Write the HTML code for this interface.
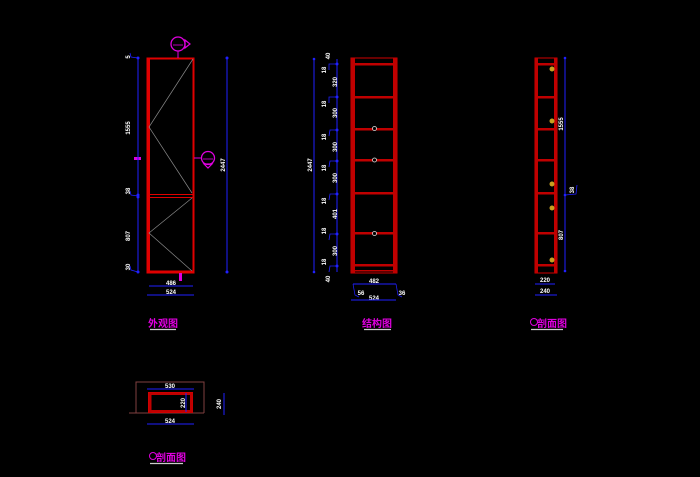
<!DOCTYPE html>
<html><head><meta charset="utf-8"><style>
html,body{margin:0;padding:0;background:#000;}
svg{display:block}
text{font-family:"Liberation Sans","Noto Sans CJK SC",sans-serif;}
</style></head><body>
<svg width="700" height="477" viewBox="0 0 700 477" xmlns="http://www.w3.org/2000/svg">
<rect width="700" height="477" fill="#000"/>
<!-- LEFT ELEVATION -->
<g>
<rect x="147.5" y="58.5" width="46" height="214" fill="none" stroke="#e00000" stroke-width="2"/>
<rect x="147" y="58" width="3" height="215" fill="#e00000"/>
<line x1="148" y1="194.5" x2="193" y2="194.5" stroke="#e00000" stroke-width="1"/>
<line x1="148" y1="197.5" x2="193" y2="197.5" stroke="#e00000" stroke-width="1"/>
<line x1="148" y1="271" x2="193" y2="271" stroke="#e00000" stroke-width="1"/>
<polyline points="193,59 149,127 192,193" fill="none" stroke="#888" stroke-width="0.7"/>
<polyline points="192,198 149,233 192,271" fill="none" stroke="#888" stroke-width="0.7"/>
<line x1="178" y1="51" x2="178" y2="58" stroke="#e000e0" stroke-width="1"/>
<circle cx="178" cy="44" r="7" fill="none" stroke="#e000e0" stroke-width="1.3"/>
<polygon points="185,40 190,44 185,48" fill="none" stroke="#e000e0" stroke-width="1.2"/>
<line x1="173" y1="45" x2="183" y2="45" stroke="#e000e0" stroke-width="0.8"/>
<line x1="194" y1="158" x2="202" y2="158" stroke="#e000e0" stroke-width="1"/>
<circle cx="208" cy="158" r="6.5" fill="none" stroke="#e000e0" stroke-width="1.3"/>
<polygon points="204,164 208,168 212,164" fill="none" stroke="#e000e0" stroke-width="1.2"/>
<line x1="203" y1="159" x2="213" y2="159" stroke="#e000e0" stroke-width="0.8"/>
<rect x="134" y="157" width="7" height="3" fill="#e000e0"/>
<rect x="179" y="273" width="3" height="8" fill="#e000e0"/>
<line x1="138" y1="58" x2="138" y2="272" stroke="#2020ff" stroke-width="1"/>
<g fill="#2020ff"><circle cx="138" cy="58" r="1.5"/><circle cx="138" cy="195" r="1.5"/><circle cx="138" cy="197" r="1.5"/><circle cx="138" cy="272" r="1.5"/></g>
<polyline points="130,53 131,57 138,58" fill="none" stroke="#2020ff" stroke-width="0.8"/>
<polyline points="130,266 131,270 138,272" fill="none" stroke="#2020ff" stroke-width="0.8"/>
<polyline points="130,191 131,195 138,196" fill="none" stroke="#2020ff" stroke-width="0.8"/>
<line x1="227" y1="58" x2="227" y2="272" stroke="#2020ff" stroke-width="1"/>
<circle cx="227" cy="58" r="1.5" fill="#2020ff"/><circle cx="227" cy="272" r="1.5" fill="#2020ff"/>
<line x1="149" y1="286" x2="193" y2="286" stroke="#2020ff" stroke-width="1"/>
<line x1="147" y1="295" x2="194" y2="295" stroke="#2020ff" stroke-width="1"/>
<g fill="#fff" font-size="6" font-weight="bold" text-anchor="middle">
<text transform="translate(130,57) rotate(-90)">5</text>
<text transform="translate(130,128) rotate(-90)">1555</text>
<text transform="translate(130,191) rotate(-90)">38</text>
<text transform="translate(130,236) rotate(-90)">807</text>
<text transform="translate(130,267) rotate(-90)">30</text>
<text transform="translate(225,165) rotate(-90)">2447</text>
<text x="171" y="285">486</text>
<text x="171" y="294">524</text>
</g>
<text x="163" y="327" fill="#e000e0" font-size="10" font-weight="bold" text-anchor="middle">外观图</text>
<line x1="150" y1="329.5" x2="176" y2="329.5" stroke="#ccc" stroke-width="1.3"/>
</g>
<!-- MIDDLE STRUCTURE -->
<g>
<rect x="351" y="58" width="46" height="215" fill="none" stroke="#d00000" stroke-width="1"/>
<rect x="351" y="58" width="4" height="215" fill="#c00000"/>
<rect x="393" y="58" width="4" height="215" fill="#c00000"/>
<g fill="#c00000">
<rect x="353" y="63" width="42" height="2.5"/>
<rect x="353" y="96" width="42" height="2.5"/>
<rect x="353" y="128" width="42" height="2.5"/>
<rect x="353" y="159" width="42" height="2.5"/>
<rect x="353" y="192" width="42" height="2.5"/>
<rect x="353" y="232" width="42" height="2.5"/>
<rect x="353" y="264" width="42" height="2.5"/>
<rect x="353" y="270" width="42" height="1.5"/>
</g>
<g fill="#000" stroke="#ddd" stroke-width="0.8">
<circle cx="374.5" cy="128.5" r="2"/><circle cx="374.5" cy="160" r="2"/><circle cx="374.5" cy="233.5" r="2"/>
</g>
<line x1="314" y1="59" x2="314" y2="272" stroke="#2020ff" stroke-width="1"/>
<line x1="337" y1="59" x2="337" y2="272" stroke="#2020ff" stroke-width="1"/>
<g fill="#2020ff">
<circle cx="314" cy="59" r="1.3"/><circle cx="314" cy="272" r="1.3"/>
<circle cx="337" cy="64" r="1.5"/><circle cx="337" cy="97" r="1.5"/><circle cx="337" cy="130" r="1.5"/><circle cx="337" cy="161" r="1.5"/><circle cx="337" cy="194" r="1.5"/><circle cx="337" cy="234" r="1.5"/><circle cx="337" cy="266" r="1.5"/>
</g>
<g fill="none" stroke="#2020ff" stroke-width="0.8">
<polyline points="329,70 329,64 337,64"/><polyline points="329,103 329,97 337,97"/><polyline points="329,136 330,130 337,130"/><polyline points="329,167 330,161 337,161"/><polyline points="329,200 330,194 337,194"/><polyline points="329,240 330,234 337,234"/><polyline points="329,272 330,266 337,266"/>
</g>
<g fill="#fff" font-size="6" font-weight="bold" text-anchor="middle">
<text transform="translate(330,56) rotate(-90)">40</text>
<text transform="translate(326,70) rotate(-90)">18</text>
<text transform="translate(337,82) rotate(-90)">320</text>
<text transform="translate(326,104) rotate(-90)">18</text>
<text transform="translate(337,113) rotate(-90)">300</text>
<text transform="translate(326,137) rotate(-90)">18</text>
<text transform="translate(337,147) rotate(-90)">300</text>
<text transform="translate(326,168) rotate(-90)">18</text>
<text transform="translate(337,178) rotate(-90)">300</text>
<text transform="translate(326,201) rotate(-90)">18</text>
<text transform="translate(337,214) rotate(-90)">401</text>
<text transform="translate(326,231) rotate(-90)">18</text>
<text transform="translate(337,251) rotate(-90)">300</text>
<text transform="translate(326,262) rotate(-90)">18</text>
<text transform="translate(330,279) rotate(-90)">40</text>
<text transform="translate(312,165) rotate(-90)">2447</text>
<text x="374" y="283">482</text>
<text x="361" y="295">56</text>
<text x="402" y="295">36</text>
<text x="374" y="300">524</text>
</g>
<line x1="353" y1="284" x2="396" y2="284" stroke="#2020ff" stroke-width="1"/>
<line x1="351" y1="300" x2="396" y2="300" stroke="#2020ff" stroke-width="1"/>
<polyline points="353,284 355,295 359,297" fill="none" stroke="#2020ff" stroke-width="0.7"/>
<polyline points="396,284 398,295 402,297" fill="none" stroke="#2020ff" stroke-width="0.7"/>
<text x="377" y="327" fill="#e000e0" font-size="10" font-weight="bold" text-anchor="middle">结构图</text>
<line x1="364" y1="329.5" x2="391" y2="329.5" stroke="#ccc" stroke-width="1.3"/>
</g>
<!-- RIGHT SECTION -->
<g>
<rect x="535" y="58" width="22" height="215" fill="none" stroke="#d00000" stroke-width="1"/>
<rect x="535" y="58" width="3" height="215" fill="#c00000"/>
<rect x="554" y="58" width="3" height="215" fill="#c00000"/>
<g fill="#c00000">
<rect x="536" y="63" width="20" height="2.5"/><rect x="536" y="96" width="20" height="2.5"/><rect x="536" y="128" width="20" height="2.5"/><rect x="536" y="159" width="20" height="2.5"/><rect x="536" y="192" width="20" height="2.5"/><rect x="536" y="232" width="20" height="2.5"/><rect x="536" y="264" width="20" height="2.5"/>
</g>
<g fill="#c8a020">
<circle cx="552" cy="69" r="2.5"/><circle cx="552" cy="121" r="2.5"/><circle cx="552" cy="184" r="2.5"/><circle cx="552" cy="208" r="2.5"/><circle cx="552" cy="260" r="2.5"/>
</g>
<line x1="565" y1="58" x2="565" y2="271" stroke="#2020ff" stroke-width="1"/>
<g fill="#2020ff"><circle cx="565" cy="58" r="1.3"/><circle cx="565" cy="195" r="1.3"/><circle cx="565" cy="271" r="1.3"/></g>
<polyline points="565,195 576,194 577,185" fill="none" stroke="#2020ff" stroke-width="0.8"/>
<g fill="#fff" font-size="6" font-weight="bold" text-anchor="middle">
<text transform="translate(563,124) rotate(-90)">1555</text>
<text transform="translate(574,190) rotate(-90)">38</text>
<text transform="translate(563,235) rotate(-90)">807</text>
<text x="545" y="282">220</text>
<text x="545" y="293">240</text>
</g>
<line x1="535" y1="284" x2="555" y2="284" stroke="#2020ff" stroke-width="1"/>
<line x1="535" y1="295" x2="557" y2="295" stroke="#2020ff" stroke-width="1"/>
<circle cx="534" cy="322" r="3.5" fill="none" stroke="#e000e0" stroke-width="1"/>
<text x="552" y="327" fill="#e000e0" font-size="10" font-weight="bold" text-anchor="middle">剖面图</text>
<line x1="531" y1="329.5" x2="563" y2="329.5" stroke="#ccc" stroke-width="1.3"/>
</g>
<!-- BOTTOM PLAN -->
<g>
<polyline points="136,413 136,382 204,382 204,413" fill="none" stroke="#804040" stroke-width="1"/>
<line x1="129" y1="413" x2="204" y2="413" stroke="#804040" stroke-width="1"/>
<rect x="148.5" y="392.5" width="44" height="20" fill="none" stroke="#d00000" stroke-width="1"/>
<rect x="149" y="393" width="2.5" height="20" fill="#c00000"/>
<rect x="190" y="393" width="2.5" height="20" fill="#c00000"/>
<rect x="149" y="393" width="43" height="2" fill="#c00000"/>
<rect x="149" y="410" width="43" height="2" fill="#c00000"/>
<line x1="147" y1="389" x2="194" y2="389" stroke="#2020ff" stroke-width="1"/>
<line x1="186" y1="393" x2="186" y2="412" stroke="#2020ff" stroke-width="1"/>
<line x1="147" y1="424" x2="194" y2="424" stroke="#2020ff" stroke-width="1"/>
<line x1="224" y1="393" x2="224" y2="415" stroke="#2020ff" stroke-width="1"/>
<g fill="#fff" font-size="6" font-weight="bold" text-anchor="middle">
<text x="170" y="388">530</text>
<text transform="translate(185,403) rotate(-90)">220</text>
<text x="170" y="423">524</text>
<text transform="translate(221,404) rotate(-90)">240</text>
</g>
<circle cx="153" cy="456" r="3.5" fill="none" stroke="#e000e0" stroke-width="1"/>
<text x="171" y="461" fill="#e000e0" font-size="10" font-weight="bold" text-anchor="middle">剖面图</text>
<line x1="150" y1="463.5" x2="183" y2="463.5" stroke="#ccc" stroke-width="1.3"/>
</g>
</svg>
</body></html>
